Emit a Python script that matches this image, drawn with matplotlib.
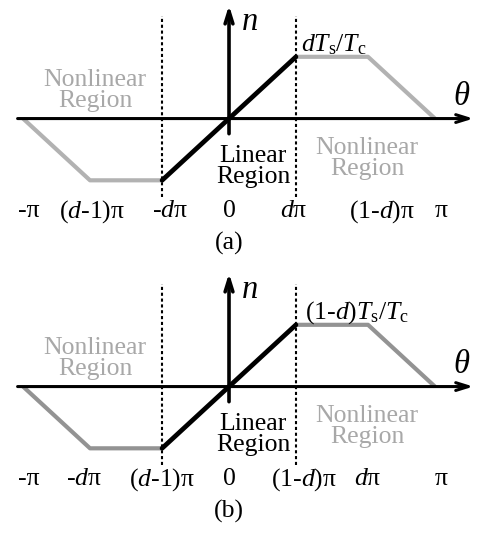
import matplotlib
matplotlib.use('Agg')
import matplotlib.pyplot as plt

plt.rcParams['font.family'] = ['Liberation Serif', 'DejaVu Serif']
plt.rcParams['mathtext.fontset'] = 'custom'
plt.rcParams['mathtext.rm'] = 'Liberation Serif'
plt.rcParams['mathtext.it'] = 'Liberation Serif:italic'

# duty ratios for the two cases (theta in units of pi)
d_a = 0.325
d_b = 0.675

# breakpoints of the n(theta) curve, in units of pi, and levels
theta_a = [-1, d_a - 1, -d_a, d_a, 1 - d_a, 1]
theta_b = [-1, -d_b, d_b - 1, 1 - d_b, d_b, 1]
n_levels = [0, -1, -1, 1, 1, 0]

ticks_a = [-1, d_a - 1, -d_a, 0, d_a, 1 - d_a, 1]
ticks_b = [-1, -d_b, d_b - 1, 0, 1 - d_b, d_b, 1]
labels_a = ['-π', '($d$-1)π', '-$d$π', '0', '$d$π', '(1-$d$)π', 'π']
labels_b = ['-π', '-$d$π', '($d$-1)π', '0', '(1-$d$)π', '$d$π', 'π']
# small horizontal nudges of the tick labels
nudge_a = [0.03, 0.01, 0.04, 0.0, -0.01, 0.07, 0.03]
nudge_b = [0.03, -0.03, 0.0, 0.0, 0.04, 0.0, 0.03]

level_a = r'$dT_{\rm s}/T_{\rm c}$'
level_b = r'(1-$d$)$T_{\rm s}/T_{\rm c}$'

FS = 18.5


def draw_panel(ax, theta, ticks, labels, nudge, level, level_x, tag, gray):
    ax.set_xlim(-1.112, 1.243)
    ax.set_ylim(-2.42, 1.92)
    ax.axis('off')

    # axes with arrow heads
    ax.annotate('', xy=(1.20, 0), xytext=(-1.04, 0),
                arrowprops=dict(arrowstyle='->,head_length=0.9,head_width=0.28',
                                lw=2.2, color='black'))
    ax.annotate('', xy=(0, 1.88), xytext=(0, -0.29),
                arrowprops=dict(arrowstyle='->,head_length=0.9,head_width=0.28',
                                lw=2.6, color='black'))

    # boundaries of the linear region
    lin = theta[2], theta[3]
    for x in lin:
        ax.plot([x, x], [-1.27, 1.66], color='black', lw=1.5,
                linestyle=(0, (1.5, 1.3)))

    # nonlinear (gray) and linear (black) parts
    ax.plot(theta[:3], n_levels[:3], color=gray, lw=3.0, solid_capstyle='butt')
    ax.plot(theta[3:], n_levels[3:], color=gray, lw=3.0, solid_capstyle='butt')
    ax.plot(theta[2:4], n_levels[2:4], color='black', lw=3.4,
            solid_capstyle='round')

    for t, lab, dx in zip(ticks, labels, nudge):
        ax.text(t + dx, -1.50, lab, ha='center', va='center', fontsize=FS)

    ax.text(0.10, 1.57, '$n$', ha='center', va='center', fontsize=FS + 5)
    ax.text(1.13, 0.36, r'$\theta$', ha='center', va='center', fontsize=FS + 5)
    ax.text(level_x, 1.20, level, ha='center', va='center', fontsize=FS)

    ax.text(-0.65, 0.45, 'Nonlinear\nRegion', ha='center', va='center',
            fontsize=FS, color='#a8a8a8', linespacing=0.95)
    ax.text(0.67, -0.65, 'Nonlinear\nRegion', ha='center', va='center',
            fontsize=FS, color='#a8a8a8', linespacing=0.95)
    ax.text(0.117, -0.77, 'Linear\nRegion', ha='center', va='center',
            fontsize=FS, color='black', linespacing=0.95)

    ax.text(0.0, -2.03, tag, ha='center', va='center', fontsize=FS)


fig = plt.figure(figsize=(4.85, 5.36), dpi=100)
ax_a = fig.add_axes([0, 268 / 536, 1, 268 / 536])
ax_b = fig.add_axes([0, 0, 1, 268 / 536])

draw_panel(ax_a, theta_a, ticks_a, labels_a, nudge_a, level_a, 0.51, '(a)', '#b2b2b2')
draw_panel(ax_b, theta_b, ticks_b, labels_b, nudge_b, level_b, 0.62, '(b)', '#939393')

fig.savefig('out.png', dpi=100)
